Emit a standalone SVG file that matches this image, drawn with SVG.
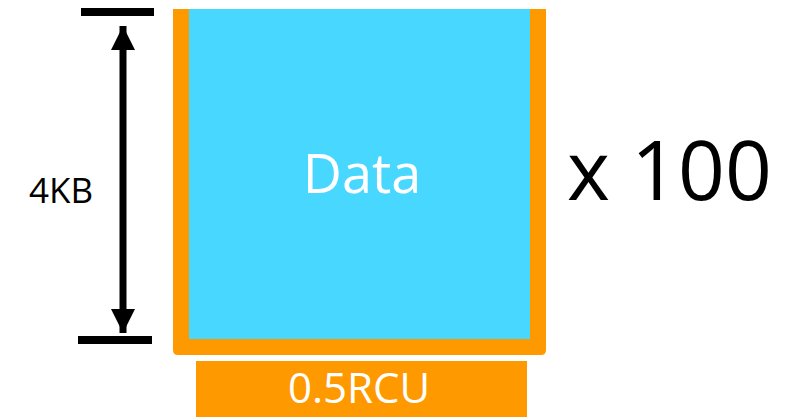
<svg xmlns="http://www.w3.org/2000/svg" width="806" height="417" viewBox="0 0 806 417">
  <style>
    .lbl { font-family: "Open Sans", "Noto Sans", sans-serif; }
    .bar { stroke: #000; stroke-width: 8; }
  </style>
  <defs>
    <marker id="head" viewBox="0 0 24 24" refX="24" refY="12" markerWidth="24" markerHeight="24" markerUnits="userSpaceOnUse" orient="auto-start-reverse">
      <path d="M0,0 L24,12 L0,24 Z" fill="#000"/>
    </marker>
  </defs>
  <rect width="806" height="417" fill="#fff"/>

  <g id="container">
    <path d="M173,9 H189 V339 H530 V9 H546 V350 Q546,355 541,355 H178 Q173,355 173,350 Z" fill="#ff9900"/>
    <rect x="189" y="9" width="341" height="330" fill="#47d7ff"/>
    <text class="lbl" x="362" y="193" font-size="54" fill="#fff" text-anchor="middle">Data</text>
  </g>

  <g id="rcu">
    <rect x="196" y="361" width="331" height="56" fill="#ff9900"/>
    <text class="lbl" x="359" y="403" font-size="42" fill="#fff" text-anchor="middle">0.5RCU</text>
  </g>

  <g id="multiplier">
    <text class="lbl" x="567" y="200" font-size="82" fill="#000">x 100</text>
  </g>

  <g id="size-label">
    <text class="lbl" x="61" y="203" font-size="35" fill="#000" text-anchor="middle">4KB</text>
  </g>

  <g id="connectors">
    <line class="bar" x1="81" y1="12" x2="154" y2="12"/>
    <line class="bar" x1="78" y1="340" x2="152" y2="340"/>
    <line x1="123" y1="26" x2="123" y2="333" stroke="#000" stroke-width="7" marker-start="url(#head)" marker-end="url(#head)"/>
  </g>
</svg>
